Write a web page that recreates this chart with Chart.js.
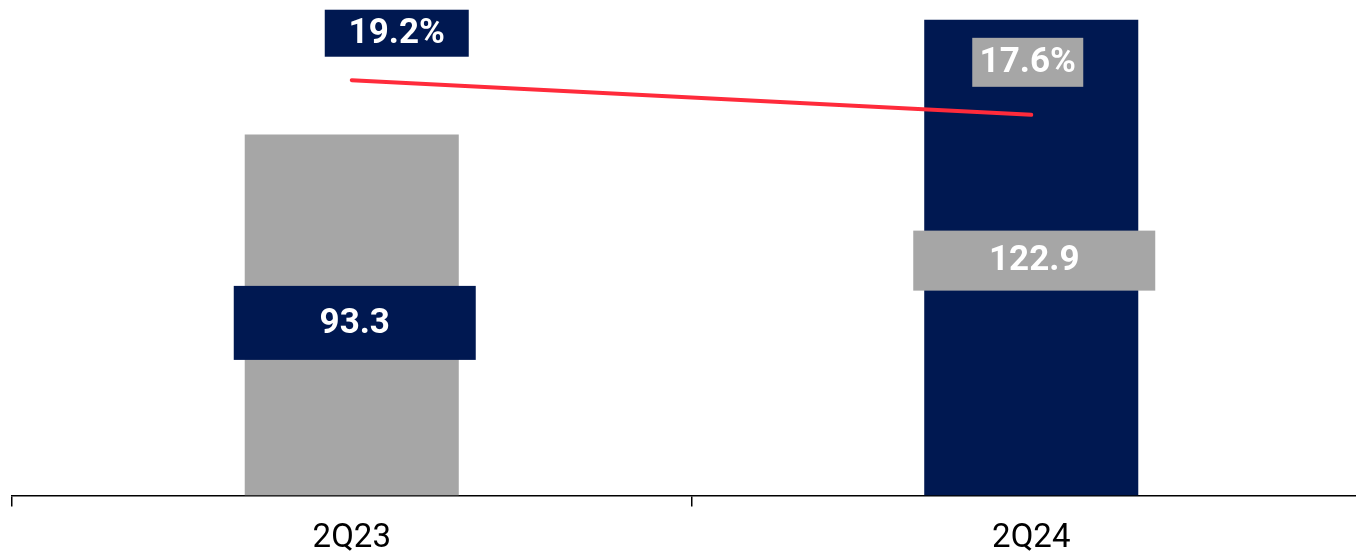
<!DOCTYPE html>
<html>
<head>
<meta charset="utf-8">
<script src="https://cdn.jsdelivr.net/npm/chart.js@4.4.1/dist/chart.umd.min.js"></script>
<style>
    html, body { margin: 0; padding: 0; background: #ffffff; overflow: hidden; }
    #wrap { width: 1372px; height: 558px; }
</style>
</head>
<body>
<div id="wrap"><canvas id="barChart" width="1372" height="558"></canvas></div>
<script>
// data
const categories = ['2Q23', '2Q24'];
const revenue = [93.3, 122.9];
const margin = [19.2, 17.6];

const NAVY = '#001851';
const GREY = '#A6A6A6';
const RED = '#FF2B3B';

// boxed labels (drawn after datasets)
const boxLabels = {
    id: 'boxLabels',
    afterDatasetsDraw(chart, args, opts) {
        const ctx = chart.ctx;
        ctx.save();
        ctx.font = "bold 35px 'Roboto', sans-serif";
        ctx.textAlign = 'center';
        ctx.textBaseline = 'middle';
        chart.data.datasets.forEach((ds, di) => {
            const meta = chart.getDatasetMeta(di);
            const conf = opts[ds.labelKey];
            if (!conf) return;
            meta.data.forEach((el, i) => {
                const c = conf[i];
                let cx = el.x + c.dx;
                let cy;
                if (ds.type === 'bar') {
                    cy = (el.y + el.base) / 2 + c.dy;
                } else {
                    cy = el.y + c.dy;
                }
                ctx.fillStyle = c.bg;
                ctx.fillRect(cx - c.w / 2, cy - c.h / 2, c.w, c.h);
                ctx.fillStyle = '#ffffff';
                ctx.fillText(ds.fmt(ds.data[i]), cx, cy + 1);
            });
        });
        ctx.restore();
    }
};

const ctx = document.getElementById('barChart').getContext('2d');
const myChart = new Chart(ctx, {
    type: 'bar',
    data: {
        labels: categories,
        datasets: [
            {
                type: 'line',
                data: margin,
                yAxisID: 'y2',
                labelKey: 'line',
                fmt: v => v.toFixed(1) + '%',
                borderColor: RED,
                borderWidth: 4,
                borderCapStyle: 'round',
                pointRadius: 0,
                order: 0,
            },
            {
                type: 'bar',
                data: revenue,
                yAxisID: 'y',
                labelKey: 'bar',
                fmt: v => v.toFixed(1),
                backgroundColor: [GREY, NAVY],
                categoryPercentage: 1,
                barPercentage: 0.315,
                order: 1,
            },
        ]
    },
    options: {
        responsive: false,
        animation: false,
        devicePixelRatio: 1,
        layout: { padding: { left: 12, right: 1, top: 0, bottom: -14 } },
        scales: {
            x: {
                grid: {
                    drawOnChartArea: false,
                    drawTicks: true,
                    tickLength: 11,
                    color: '#000000',
                    lineWidth: 1.5,
                },
                border: { display: true, color: '#000000', width: 1.5 },
                ticks: {
                    color: '#000000',
                    padding: 13,
                    font: { family: "'Roboto', sans-serif", size: 33 },
                }
            },
            y: { display: false, min: 0, max: 128.03 },
            y2: { display: false, min: 0, max: 22.91, position: 'right' },
        },
        plugins: {
            legend: { display: false },
            tooltip: { enabled: false },
            boxLabels: {
                bar: [
                    { dx: 3, dy: 8, w: 242, h: 74, bg: NAVY },
                    { dx: 3, dy: 3, w: 242, h: 60, bg: GREY },
                ],
                line: [
                    { dx: 45, dy: -47, w: 144, h: 47, bg: NAVY },
                    { dx: -3.5, dy: -52.5, w: 111, h: 49, bg: GREY },
                ],
            },
        },
    },
    plugins: [boxLabels],
});
</script>
</body>
</html>
